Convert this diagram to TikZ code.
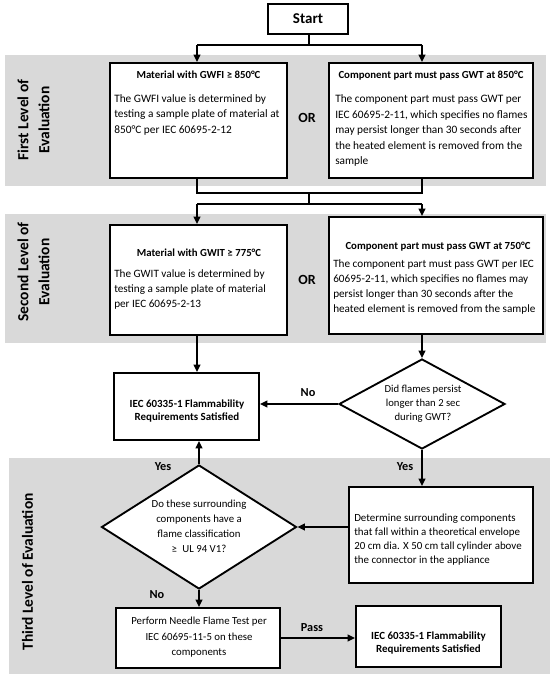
\documentclass[tikz,border=0pt]{standalone}
\usepackage{fontspec}
\setmainfont{Carlito}
\usetikzlibrary{arrows.meta,shapes.geometric}
\definecolor{bandgray}{HTML}{D9D9D9}
\begin{document}
\begin{tikzpicture}[x=0.75pt,y=-0.75pt,
  sz/.style 2 args={minimum width=#1*0.75pt,minimum height=#2*0.75pt},
  box/.style={draw=black,line width=1.4pt,fill=white,rectangle,inner sep=0pt},
  dia/.style={draw=black,line width=1.4pt,fill=white,diamond,inner sep=0pt},
  conn/.style={line width=1.1pt},
  arr/.style={conn,-{Triangle[length=5.5pt,width=5pt]}},
  title/.style={font=\fontsize{8.1}{11}\selectfont\bfseries,anchor=base,inner sep=0pt},
  body/.style={font=\fontsize{8.5}{11.6}\selectfont,align=left,anchor=base west,inner sep=0pt},
  bodytwo/.style={font=\fontsize{8.4}{11.25}\selectfont,align=left,anchor=base west,inner sep=0pt},
  ctext/.style={font=\fontsize{8.1}{11.25}\selectfont,align=center,inner sep=0pt},
  btext/.style={font=\fontsize{8.2}{9.75}\selectfont\bfseries,align=center,inner sep=0pt},
  lbl/.style={font=\fontsize{9.2}{11}\selectfont\bfseries,inner sep=0pt},
  ortext/.style={font=\fontsize{10.5}{12}\selectfont\bfseries,inner sep=0pt},
  level/.style={font=\fontsize{11.6}{15.75}\selectfont\bfseries,align=center,rotate=90,inner sep=0pt}]

\useasboundingbox (0,0) rectangle (554,674);

% bands
\fill[bandgray] (5,55) rectangle (546,186);
\fill[bandgray] (5,214) rectangle (546,343);
\fill[bandgray] (9,458) rectangle (550,674);

\node[level] (lv1) at (33.5,120) {First Level of\\Evaluation};
\node[level] (lv2) at (33.5,272) {Second Level of\\Evaluation};
\node[level] (lv3) at (27.5,572) {Third Level of Evaluation};

% boxes
\node[box,sz={80}{30},font=\fontsize{11.25}{13}\selectfont\bfseries] (start) at (308,19) {Start};
\node[box,sz={177}{115}] (b1l) at (198.5,120.5) {};
\node[box,sz={204}{115}] (b1r) at (431,120.5) {};
\node[box,sz={177}{110}] (b2l) at (198.5,280) {};
\node[box,sz={214}{117}] (b2r) at (436,275.5) {};
\node[box,sz={145}{67}] (iec1) at (186.5,406.5) {};
\node[dia,sz={166}{90}] (d1) at (422,404) {};
\node[box,sz={184}{96}] (det) at (441,535) {};
\node[dia,sz={195}{124}] (d2) at (199,527) {};
\node[box,sz={164}{60}] (ndl) at (198,638) {};
\node[box,sz={145}{61}] (iec2) at (428.5,636.5) {};

% texts (multi-line nodes are placed by the baseline of their last line)
\node[title] (t1l) at (198.5,79) {Material with GWFI ≥ 850°C};
\node[body] (x1l) at (114,133) {The GWFI value is determined by\\testing a sample plate of material at\\850°C per IEC 60695-2-12};
\node[title] (t1r) at (431,79) {Component part must pass GWT at 850°C};
\node[body] (x1r) at (335,164.5) {The component part must pass GWT per\\IEC 60695-2-11, which specifies no flames\\may persist longer than 30 seconds after\\the heated element is removed from the\\sample};
\node[ortext] (or1) at (307,118) {OR};

\node[title] (t2l) at (199,256) {Material with GWIT ≥ 775°C};
\node[bodytwo] (x2l) at (114,307.5) {The GWIT value is determined by\\testing a sample plate of material\\per IEC 60695-2-13};
\node[title] (t2r) at (438,249.5) {Component part must pass GWT at 750°C};
\node[bodytwo] (x2r) at (333,312.5) {The component part must pass GWT per IEC\\60695-2-11, which specifies no flames may\\persist longer than 30 seconds after the\\heated element is removed from the sample};
\node[ortext] (or2) at (307,280) {OR};

\node[btext] (iec1t) at (187,411.5) {IEC 60335-1 Flammability\\Requirements Satisfied};
\node[ctext,font=\fontsize{8}{10.5}\selectfont] (d1t) at (423,404) {Did flames persist\\longer than 2 sec\\during GWT?};
\node[body,font=\fontsize{8.2}{10.3}\selectfont] (dett) at (354,563) {Determine surrounding components\\that fall within a theoretical envelope\\20 cm dia. X 50 cm tall cylinder above\\the connector in the appliance};
\node[ctext] (d2t) at (199,526.5) {Do these surrounding\\components have a\\flame classification\\≥\enspace UL 94 V1?};
\node[ctext,font=\fontsize{8.1}{11.6}\selectfont] (ndlt) at (199,637.5) {Perform Needle Flame Test per\\IEC 60695-11-5 on these\\components};
\node[btext] (iec2t) at (428.5,643) {IEC 60335-1 Flammability\\Requirements Satisfied};

% labels
\node[lbl] (no1) at (308,393) {No};
\node[lbl] (yes1) at (405,467) {Yes};
\node[lbl] (yes2) at (163,467) {Yes};
\node[lbl] (no2) at (157,595) {No};
\node[lbl] (pass) at (312,628) {Pass};

% connectors
\coordinate (s1) at (309,45);
\coordinate (jl) at (197,45);
\coordinate (jr) at (422,45);
\draw[conn] (start.south -| s1) -- (s1);
\draw[conn] (jl) -- (jr);
\draw[arr] (jl) -- (jl |- b1l.north);
\draw[arr] (jr) -- (jr |- b1r.north);
\coordinate (k1l) at (197,193);
\coordinate (k1r) at (422,193);
\coordinate (km) at (309,193);
\coordinate (m2) at (309,204);
\coordinate (m2l) at (197,204);
\coordinate (m2r) at (422,204);
\draw[conn] (k1l |- b1l.south) -- (k1l) -- (k1r) -- (k1r |- b1r.south);
\draw[conn] (km) -- (m2);
\draw[conn] (m2l) -- (m2r);
\draw[arr] (m2l) -- (m2l |- b2l.north);
\draw[arr] (m2r) -- (m2r |- b2r.north);
\draw[arr] (m2l |- b2l.south) -- (m2l |- iec1.north);
\draw[arr] (m2r |- b2r.south) -- (d1.north);
\draw[arr] (d1.west) -- (d1.west -| iec1.east);
\draw[arr] (d1.south) -- (d1.south |- det.north);
\draw[arr] (det.west |- d2.east) -- (d2.east);
\draw[arr] (d2.north) -- (d2.north |- iec1.south);
\draw[arr] (d2.south) -- (d2.south |- ndl.north);
\draw[arr] (ndl.east) -- (ndl.east -| iec2.west);
\end{tikzpicture}
\end{document}
